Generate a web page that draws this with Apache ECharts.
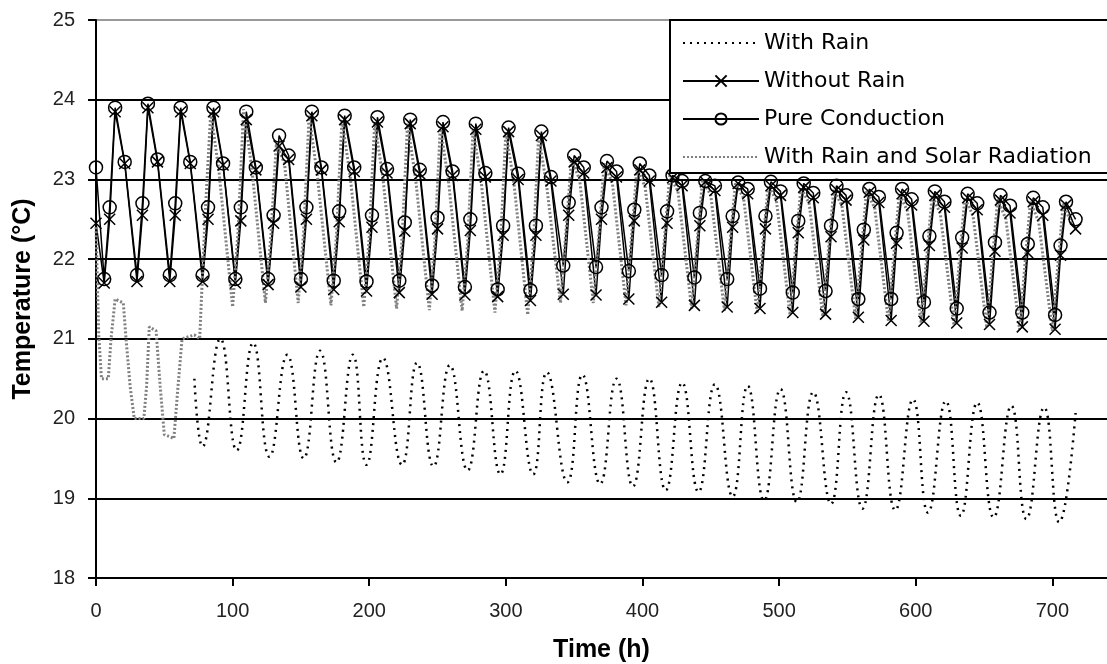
<!DOCTYPE html>
<html>
<head>
<meta charset="utf-8">
<script src="https://cdn.jsdelivr.net/npm/echarts@6/dist/echarts.min.js"></script>
<style>
html, body { margin: 0; padding: 0; background: #fff; }
#chart { width: 1107px; height: 664px; }
</style>
</head>
<body>
<div id="chart"></div>
<script>
// axis ticks
var xTicks = [0, 100, 200, 300, 400, 500, 600, 700];
var yTicks = [18, 19, 20, 21, 22, 23, 24, 25];

// start hour of each simulated day (h)
var dayStart = [0, 24, 48, 72, 96, 120, 144, 168, 192, 216, 240, 264, 288, 312, 336,
    360, 384, 408, 432, 456, 480, 504, 528, 552, 576, 600, 624, 648, 672, 696];
// hour of day of the four daily readings: min, rise, peak, fall
var dailyHours = [6, 10, 14, 21];
var solarHours = [4, 8, 12, 18];

// Pure Conduction
var condStart = 23.15;
var condMin = [21.75, 21.8, 21.8, 21.8, 21.75, 21.75, 21.75, 21.73, 21.72, 21.73, 21.67, 21.65, 21.62, 21.61, 21.92,
    21.9, 21.85, 21.8, 21.77, 21.75, 21.63, 21.58, 21.6, 21.5, 21.5, 21.46, 21.38, 21.33, 21.33, 21.3];
var condRise = [22.65, 22.7, 22.7, 22.65, 22.65, 22.55, 22.65, 22.6, 22.55, 22.46, 22.52, 22.5, 22.42, 22.42, 22.71,
    22.65, 22.62, 22.6, 22.58, 22.54, 22.54, 22.48, 22.42, 22.37, 22.33, 22.29, 22.27, 22.21, 22.19, 22.17];
var condPeak = [23.9, 23.95, 23.9, 23.9, 23.85, 23.55, 23.85, 23.8, 23.78, 23.75, 23.72, 23.7, 23.65, 23.6, 23.3,
    23.23, 23.2, 23.05, 22.98, 22.96, 22.97, 22.95, 22.92, 22.88, 22.88, 22.85, 22.82, 22.8, 22.77, 22.72];
var condFall = [23.22, 23.25, 23.22, 23.2, 23.15, 23.3, 23.15, 23.15, 23.13, 23.12, 23.1, 23.08, 23.07, 23.03, 23.15,
    23.1, 23.05, 22.98, 22.92, 22.88, 22.85, 22.83, 22.8, 22.78, 22.75, 22.72, 22.7, 22.67, 22.65, 22.5];

// Without Rain
var dryStart = 22.45;
var dryMin = [21.7, 21.72, 21.72, 21.72, 21.7, 21.68, 21.65, 21.62, 21.6, 21.58, 21.56, 21.55, 21.53, 21.48, 21.56,
    21.55, 21.5, 21.46, 21.42, 21.4, 21.38, 21.33, 21.31, 21.27, 21.23, 21.22, 21.2, 21.18, 21.15, 21.12];
var dryRise = [22.5, 22.55, 22.55, 22.5, 22.48, 22.45, 22.5, 22.47, 22.4, 22.35, 22.38, 22.36, 22.3, 22.3, 22.55,
    22.5, 22.48, 22.45, 22.42, 22.4, 22.38, 22.33, 22.28, 22.24, 22.2, 22.17, 22.14, 22.1, 22.08, 22.05];
var dryPeak = [23.85, 23.9, 23.85, 23.85, 23.75, 23.42, 23.8, 23.75, 23.72, 23.7, 23.66, 23.63, 23.6, 23.55, 23.22,
    23.15, 23.12, 23.02, 22.97, 22.95, 22.92, 22.9, 22.87, 22.84, 22.82, 22.8, 22.77, 22.74, 22.72, 22.68];
var dryFall = [23.2, 23.22, 23.2, 23.18, 23.12, 23.25, 23.12, 23.1, 23.08, 23.07, 23.05, 23.03, 23.0, 22.98, 23.08,
    23.03, 22.98, 22.92, 22.86, 22.82, 22.8, 22.77, 22.74, 22.71, 22.68, 22.65, 22.62, 22.58, 22.55, 22.38];

// With Rain and Solar Radiation: rainy first days, then daily cycle from day 3
var solarEarlyTime = [0, 2, 4, 9, 11, 14, 20, 22, 25, 28, 35, 37, 39, 44, 47, 50, 57, 60, 63, 72, 76];
var solarEarlyTemp = [22.4, 21.05, 20.5, 20.5, 21.0, 21.5, 21.45, 21.0, 20.4, 20.0, 20.0, 20.4, 21.15, 21.1, 20.4,
    19.8, 19.75, 20.4, 21.0, 21.05, 21.0];
var solarFirstDay = 3;
var solarMin = [21.05, 21.4, 21.45, 21.45, 21.42, 21.4, 21.38, 21.36, 21.35, 21.33, 21.3, 21.45, 21.45, 21.42,
    21.4, 21.38, 21.35, 21.32, 21.3, 21.28, 21.25, 21.22, 21.2, 21.17, 21.14, 21.12, 21.1];
var solarRise = [22.6, 22.35, 22.3, 22.35, 22.3, 22.28, 22.25, 22.22, 22.2, 22.18, 22.15, 22.35, 22.3, 22.28,
    22.25, 22.22, 22.2, 22.17, 22.14, 22.1, 22.08, 22.05, 22.02, 22.0, 21.98, 21.95, 21.92];
var solarPeak = [23.85, 23.88, 23.45, 23.8, 23.75, 23.72, 23.7, 23.66, 23.63, 23.6, 23.55, 23.25, 23.2, 23.15,
    23.05, 23.0, 22.95, 22.92, 22.9, 22.87, 22.85, 22.82, 22.8, 22.77, 22.75, 22.72, 22.7];
var solarFall = [23.1, 23.15, 23.2, 23.05, 23.05, 23.02, 23.0, 22.98, 22.96, 22.94, 22.9, 23.0, 22.95, 22.9,
    22.85, 22.8, 22.77, 22.74, 22.7, 22.67, 22.64, 22.6, 22.57, 22.54, 22.5, 22.47, 22.44];

// With Rain: daily peaks / troughs once the rain has stopped
var rainTime = [72, 78, 91, 103, 115, 127, 140, 152, 164, 176, 188, 198, 210, 224, 235, 247, 259, 272, 284, 296,
    307, 320, 330, 345, 356, 369, 381, 393, 405, 417, 429, 441, 453, 466, 477, 489, 501, 513, 525, 538,
    549, 561, 573, 585, 598, 609, 622, 633, 645, 657, 670, 681, 694, 705, 717];
var rainTemp = [20.5, 19.65, 21.0, 19.6, 20.95, 19.52, 20.8, 19.5, 20.85, 19.45, 20.8, 19.42, 20.76, 19.42, 20.7,
    19.4, 20.67, 19.35, 20.6, 19.3, 20.6, 19.3, 20.58, 19.2, 20.55, 19.18, 20.5, 19.15, 20.5, 19.1,
    20.45, 19.08, 20.43, 19.02, 20.41, 18.97, 20.37, 18.95, 20.33, 18.93, 20.33, 18.87, 20.3, 18.85, 20.24,
    18.82, 20.22, 18.78, 20.2, 18.76, 20.16, 18.74, 20.14, 18.7, 20.07];

function daily(firstDay, hours, mins, rises, peaks, falls) {
    var out = [];
    for (var i = 0; i < mins.length; i++) {
        var d = dayStart[firstDay + i];
        out.push([d + hours[0], mins[i]]);
        out.push([d + hours[1], rises[i]]);
        out.push([d + hours[2], peaks[i]]);
        out.push([d + hours[3], falls[i]]);
    }
    return out;
}
function pairs(times, temps) {
    var out = [];
    for (var i = 0; i < times.length; i++) out.push([times[i], temps[i]]);
    return out;
}

var condData = [[0, condStart]].concat(daily(0, dailyHours, condMin, condRise, condPeak, condFall));
var dryData = [[0, dryStart]].concat(daily(0, dailyHours, dryMin, dryRise, dryPeak, dryFall));
var solarData = pairs(solarEarlyTime, solarEarlyTemp)
    .concat(daily(solarFirstDay, solarHours, solarMin, solarRise, solarPeak, solarFall));
var rainData = pairs(rainTime, rainTemp);

var chart = echarts.init(document.getElementById('chart'));
chart.setOption({
    animation: false,
    backgroundColor: '#fff',
    grid: {left: 96, right: 0, top: 20, bottom: 86, outerBoundsMode: 'none'},
    legend: {
        data: [
            {name: 'With Rain', itemStyle: {opacity: 0}},
            'Without Rain',
            'Pure Conduction',
            {name: 'With Rain and Solar Radiation', itemStyle: {opacity: 0}}
        ],
        orient: 'vertical',
        left: 670,
        top: 20,
        itemWidth: 76,
        itemHeight: 14,
        itemGap: 16,
        padding: [12, 30, 5, 12],
        backgroundColor: '#fff',
        borderColor: '#000',
        borderWidth: 2,
        textStyle: {fontFamily: 'DejaVu Sans', fontSize: 22, color: '#000'}
    },
    xAxis: {
        type: 'value',
        min: 0,
        max: 740,
        interval: 100,
        name: 'Time (h)',
        nameLocation: 'middle',
        nameGap: 60,
        nameTextStyle: {fontFamily: 'Liberation Sans', fontWeight: 'bold', fontSize: 25, color: '#000'},
        axisLine: {lineStyle: {color: '#000', width: 2}},
        axisTick: {length: 8, lineStyle: {color: '#000', width: 2}},
        axisLabel: {
            showMaxLabel: false, margin: 23,
            fontFamily: 'Liberation Sans', fontSize: 20, color: '#222',
            formatter: function (v) { return xTicks.indexOf(v) >= 0 ? String(v) : ''; }
        },
        splitLine: {show: false}
    },
    yAxis: {
        type: 'value',
        min: 18,
        max: 25,
        interval: 1,
        name: 'Temperature (°C)',
        nameLocation: 'middle',
        nameGap: 60,
        nameTextStyle: {fontFamily: 'Liberation Sans', fontWeight: 'bold', fontSize: 25, color: '#000'},
        axisLine: {show: true, lineStyle: {color: '#000', width: 2}},
        axisTick: {show: true, length: 8, lineStyle: {color: '#000', width: 2}},
        axisLabel: {
            margin: 21, fontFamily: 'Liberation Sans', fontSize: 20, color: '#222',
            formatter: function (v) { return yTicks.indexOf(v) >= 0 ? String(v) : ''; }
        },
        splitLine: {lineStyle: {color: ['#000', '#000', '#000', '#000', '#000', '#000', '#000', '#999'], width: 2}}
    },
    series: [
        {name: 'With Rain', type: 'line', data: rainData, symbol: 'none', smooth: true,
            lineStyle: {color: '#000', width: 2.5, type: [2, 5]},
            itemStyle: {color: '#000'}},
        {name: 'Without Rain', type: 'line', data: dryData,
            symbol: 'path://M0,0L10,10M10,0L0,10', symbolSize: 11,
            lineStyle: {color: '#000', width: 1.5},
            itemStyle: {color: '#000', borderColor: '#000', borderWidth: 1.5}},
        {name: 'Pure Conduction', type: 'line', data: condData,
            symbol: 'circle', symbolSize: 13,
            lineStyle: {color: '#000', width: 1.5},
            itemStyle: {color: 'rgba(0,0,0,0)', borderColor: '#000', borderWidth: 1.5}},
        {name: 'With Rain and Solar Radiation', type: 'line', data: solarData, symbol: 'none',
            lineStyle: {color: '#808080', width: 3, type: [2, 2]},
            itemStyle: {color: '#808080'}}
    ]
});
</script>
</body>
</html>
